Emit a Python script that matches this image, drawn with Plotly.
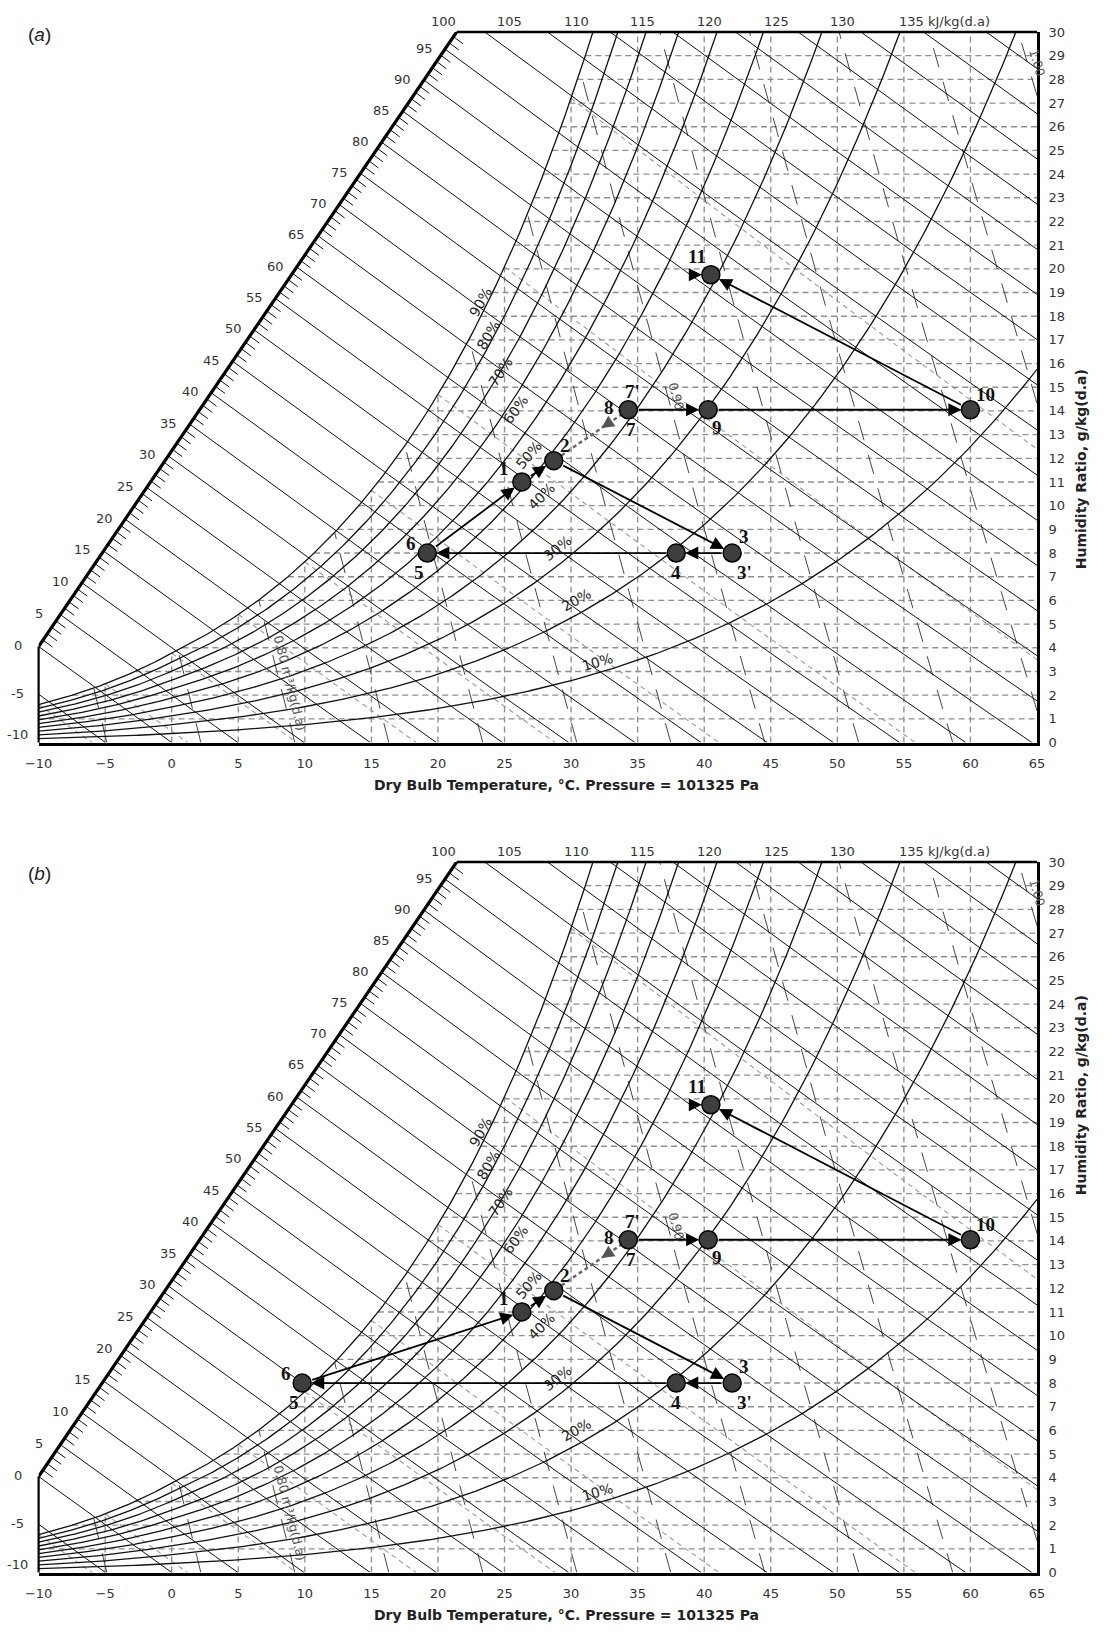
import numpy as np
import plotly.graph_objects as go

P_ATM = 101.325  # kPa

# ---------------- values ----------------
state_names = ['1', '2', '3', '4', '6', '7', '9', '10', '11']
tdb_a = [26.3, 28.7, 42.1, 37.9, 19.2, 34.3, 40.3, 60.0, 40.5]
hr_a = [11.0, 11.9, 8.0, 8.0, 8.0, 14.05, 14.05, 14.05, 19.75]
tdb_b = [26.3, 28.7, 42.1, 37.9, 9.8, 34.3, 40.3, 60.0, 40.5]
hr_b = [11.0, 11.9, 8.0, 8.0, 8.0, 14.05, 14.05, 14.05, 19.75]

process_solid = [('6', '1'), ('1', '2'), ('2', '3'), ('3', '4'), ('4', '6'),
                 ('7', '9'), ('9', '10'), ('10', '11')]
process_dashed = [('7', '2')]

rh_levels = [10, 20, 30, 40, 50, 60, 70, 80, 90]
rh_label_t = [32.0, 30.4, 29.0, 27.8, 26.8, 25.8, 24.7, 23.8, 23.2]
rh_label_w = [3.4, 6.0, 8.2, 10.4, 12.15, 14.05, 15.65, 17.2, 18.6]

enthalpy_levels = [-10, -5, 0, 5, 10, 15, 20, 25, 30, 35, 40, 45, 50, 55, 60, 65, 70,
                   75, 80, 85, 90, 95, 100, 105, 110, 115, 120, 125, 130, 135, 140]
enthalpy_top_labels = [100, 105, 110, 115, 120, 125, 130]
enthalpy_diag_labels = [-10, -5, 0, 5, 10, 15, 20, 25, 30, 35, 40, 45, 50, 55, 60,
                        65, 70, 75, 80, 85, 90, 95]
wetbulb_levels = [-10, -5, 0, 5, 10, 15, 20, 25, 30]
volume_levels = [0.76, 0.78, 0.80, 0.82, 0.84, 0.86, 0.88, 0.90, 0.92, 0.94, 0.96,
                 0.98, 1.00]
volume_labels = ['0.80 m³/kg(d.a)', '0.90', '1.00']
volume_label_v = [0.80, 0.90, 1.00]
volume_label_t = [8.9, 37.9, 65.0]
volume_label_w = [2.5, 14.6, 28.7]
x_ticks = [-10, -5, 0, 5, 10, 15, 20, 25, 30, 35, 40, 45, 50, 55, 60, 65]
y_ticks = list(range(0, 31))

# ---------------- layout geometry (pixels of the 1109x1637 page) ----------------
W_FIG, H_FIG = 1109, 1637
X_LEFT, X_RIGHT = 38.6, 1037.0
PANEL_TOP = [32.0, 862.0]
PANEL_BOT = [742.5, 1572.5]
PX_T = (X_RIGHT - X_LEFT) / 75.0
PX_W = (PANEL_BOT[0] - PANEL_TOP[0]) / 30.0
T_CORNER = 21.4  # where the enthalpy scale line meets the top border
FONT = 'DejaVu Sans'


# ---------------- psychrometric relations ----------------
def p_ws(T):
    T = np.asarray(T, dtype=float)
    Tk = T + 273.15
    ln_w = (-5.8002206e3 / Tk + 1.3914993 - 4.8640239e-2 * Tk + 4.1764768e-5 * Tk ** 2
            - 1.4452093e-8 * Tk ** 3 + 6.5459673 * np.log(Tk))
    ln_i = (-5.6745359e3 / Tk + 6.3925247 - 9.677843e-3 * Tk + 6.2215701e-7 * Tk ** 2
            + 2.0747825e-9 * Tk ** 3 - 9.484024e-13 * Tk ** 4 + 4.1635019 * np.log(Tk))
    return np.exp(np.where(T >= 0, ln_w, ln_i)) / 1000.0


def w_rh(T, phi):
    pv = phi * p_ws(T)
    return 621.945 * pv / (P_ATM - pv)


def w_h(T, h):
    T = np.asarray(T, dtype=float)
    return 1000.0 * (h - 1.006 * T) / (2501.0 + 1.86 * T)


def h_of(T, w):
    return 1.006 * T + w / 1000.0 * (2501.0 + 1.86 * T)


def t_v(v, w):
    w = np.asarray(w, dtype=float)
    return v * P_ATM / (0.287042 * (1 + 1.607858 * w / 1000.0)) - 273.15


def bisect(f, lo, hi, n=70):
    flo = f(lo)
    for _ in range(n):
        mid = 0.5 * (lo + hi)
        fm = f(mid)
        if np.sign(fm) == np.sign(flo):
            lo, flo = mid, fm
        else:
            hi = mid
    return 0.5 * (lo + hi)


def t_sat(w):
    return bisect(lambda T: float(w_rh(T, 1.0)) - w, -60.0, 90.0)


D0 = (-10.0, float(w_h(-10.0, 0.0)))
D1 = (T_CORNER, 30.0)
H_CORNER = h_of(*D1)


def diag_pt(s):
    return D0[0] + s * (D1[0] - D0[0]), D0[1] + s * (D1[1] - D0[1])


def diag_for_h(h):
    s = bisect(lambda s: h_of(*diag_pt(s)) - h, 0.0, 1.0)
    return diag_pt(s)


# ---------------- geometry of the chart background ----------------
def build_background():
    g = {}
    # enthalpy lines
    ex, ey = [], []
    for h in enthalpy_levels:
        if h <= 0:
            t0 = -10.0
        elif h <= H_CORNER:
            t0 = diag_for_h(h)[0]
        else:
            t0 = (h - 0.03 * 2501.0) / (1.006 + 0.03 * 1.86)
        t1 = min(h / 1.006, 65.0)
        if t1 <= t0:
            continue
        ts = np.linspace(t0, t1, 25)
        ws = np.clip(w_h(ts, h), 0, 30)
        ex += list(ts) + [None]
        ey += list(ws) + [None]
    g['enth'] = (ex, ey)
    # hatches on the enthalpy scale
    hx, hy = [], []
    for h in range(1, int(H_CORNER) + 1):
        if h % 5 == 0:
            continue
        t0, w0 = diag_for_h(h)
        t1 = t0 + 0.72
        hx += [t0, t1, None]
        hy += [w0, float(w_h(t1, h)), None]
    g['hatch'] = (hx, hy)
    # relative humidity curves
    rx, ry = [], []
    for phi in [r / 100.0 for r in rh_levels] + [1.0]:
        if float(w_rh(65.0, phi)) > 30:
            t_top = bisect(lambda T: float(w_rh(T, phi)) - 30.0, -10.0, 65.0)
        else:
            t_top = 65.0
        ts = np.linspace(-10.0, t_top, 220)
        rx += list(ts) + [None]
        ry += list(w_rh(ts, phi)) + [None]
    g['rh'] = (rx, ry)
    # dashed grid
    gx, gy = [], []
    for w in y_ticks[1:-1]:
        t0 = max(-10.0, t_sat(w))
        gx += [t0, 65.0, None]
        gy += [w, w, None]
    for T in x_ticks[1:-1]:
        wt = min(30.0, float(w_rh(T, 1.0)))
        gx += [T, T, None]
        gy += [0, wt, None]
    g['grid'] = (gx, gy)
    # wet-bulb lines
    bx, by = [], []
    for twb in wetbulb_levels:
        ws_ = float(w_rh(twb, 1.0)) / 1000.0
        t_end = min(65.0, twb + (2501.0 - 2.326 * twb) * ws_ / 1.006)
        ts = np.linspace(twb, t_end, 30)
        ww = 1000.0 * ((2501.0 - 2.326 * twb) * ws_ - 1.006 * (ts - twb)) / \
            (2501.0 + 1.86 * ts - 4.186 * twb)
        bx += list(ts) + [None]
        by += list(np.clip(ww, 0, 30)) + [None]
    g['wb'] = (bx, by)
    # specific volume lines
    vx, vy = [], []
    for v in volume_levels:
        if float(t_v(v, 0.0)) > 65.0:
            w_lo = (v * P_ATM / (0.287042 * 338.15) - 1.0) / 1.607858 * 1000.0
        else:
            w_lo = 0.0
        f = lambda w, v=v: float(w_rh(float(t_v(v, w)), 1.0)) - w
        w_hi = 30.0 if f(30.0) > 0 else bisect(f, w_lo, 30.0)
        if w_hi <= w_lo:
            continue
        ws = np.linspace(w_lo, w_hi, 20)
        vx += list(t_v(v, ws)) + [None]
        vy += list(ws) + [None]
    g['vol'] = (vx, vy)
    return g


BG = build_background()

fig = go.Figure()
annotations = []
shapes = []

x_dom = [X_LEFT / W_FIG, X_RIGHT / W_FIG]


def ydom(k):
    return [1 - PANEL_BOT[k] / H_FIG, 1 - PANEL_TOP[k] / H_FIG]


def line_trace(xy, xa, ya, color, width, dash='solid'):
    return go.Scatter(x=xy[0], y=xy[1], mode='lines', xaxis=xa, yaxis=ya,
                      line=dict(color=color, width=width, dash=dash),
                      hoverinfo='skip', showlegend=False)


state_text_style = [  # text, anchor state, x shift px, y shift px
    ('1', '1', -18, 13), ('2', '2', 11, 15), ('3', '3', 12, 17), ("3'", '3', 12, -19),
    ('4', '4', 0, -19), ('6', '6', -16, 10), ('5', '6', -8, -19), ("7'", '7', 4, 18),
    ('7', '7', 3, -20), ('8', '7', -19, 2), ('9', '9', 9, -18), ('10', '10', 15, 15),
    ('11', '11', -14, 18)]

panels = [(tdb_a, hr_a, '(<i>a</i>)', 22.0), (tdb_b, hr_b, '(<i>b</i>)', 873.0)]

for k, (tdb, hr, ptxt, py) in enumerate(panels):
    xa = 'x' if k == 0 else 'x2'
    ya = 'y' if k == 0 else 'y2'
    T = dict(zip(state_names, tdb))
    W = dict(zip(state_names, hr))

    fig.add_trace(line_trace(BG['grid'], xa, ya, '#8f8f8f', 1.35, '6px,4px'))
    fig.add_trace(line_trace(BG['wb'], xa, ya, '#9a9a9a', 1.1, '5px,4px'))
    fig.add_trace(line_trace(BG['vol'], xa, ya, '#454545', 1.0, '20px,15px'))
    fig.add_trace(line_trace(BG['enth'], xa, ya, '#111111', 1.0))
    fig.add_trace(line_trace(BG['hatch'], xa, ya, '#111111', 1.0))
    fig.add_trace(line_trace(BG['rh'], xa, ya, '#111111', 1.3))
    fig.add_trace(line_trace(([D0[0], D1[0]], [D0[1], D1[1]]), xa, ya, '#000000', 3.2))

    # borders that the axes do not draw
    yd = ydom(k)
    xc = x_dom[0] + (T_CORNER + 10) / 75.0 * (x_dom[1] - x_dom[0])
    shapes.append(dict(type='line', xref='paper', yref='paper', x0=xc, x1=x_dom[1],
                       y0=yd[1], y1=yd[1], line=dict(color='black', width=2.6)))
    shapes.append(dict(type='line', xref='paper', yref='paper', x0=x_dom[0], x1=x_dom[0],
                       y0=yd[0], y1=yd[0] + D0[1] / 30.0 * (yd[1] - yd[0]),
                       line=dict(color='black', width=2.2)))

    # dashed process line 7 -> 2
    for a, b in process_dashed:
        fig.add_trace(go.Scatter(x=[T[a], T[b]], y=[W[a], W[b]], mode='lines',
                                 xaxis=xa, yaxis=ya, hoverinfo='skip', showlegend=False,
                                 line=dict(color='#666666', width=2.4, dash='4px,3px')))
        hx = T[a] + 0.36 * (T[b] - T[a])
        hy = W[a] + 0.36 * (W[b] - W[a])
        tx = T[a] + 0.22 * (T[b] - T[a])
        ty = W[a] + 0.22 * (W[b] - W[a])
        annotations.append(dict(x=hx, y=hy, ax=tx, ay=ty, xref=xa, yref=ya, axref=xa,
                                ayref=ya, text='', showarrow=True, arrowhead=2,
                                arrowsize=1.4, arrowwidth=1.8, arrowcolor='#555555'))

    # state points
    fig.add_trace(go.Scatter(x=tdb, y=hr, mode='markers', xaxis=xa, yaxis=ya,
                             marker=dict(size=18, color='#3e3e3e',
                                         line=dict(color='black', width=1.5)),
                             hoverinfo='skip', showlegend=False))

    # process arrows
    for a, b in process_solid:
        annotations.append(dict(x=T[b], y=W[b], ax=T[a], ay=W[a], xref=xa, yref=ya,
                                axref=xa, ayref=ya, text='', showarrow=True,
                                arrowhead=2, arrowsize=1.45, arrowwidth=1.8,
                                arrowcolor='black', standoff=9, startstandoff=9))
    annotations.append(dict(x=T['11'], y=W['11'], ax=T['11'] - 1.6, ay=W['11'],
                            xref=xa, yref=ya, axref=xa, ayref=ya, text='',
                            showarrow=True, arrowhead=2, arrowsize=1.45, arrowwidth=1.8,
                            arrowcolor='black', standoff=9))

    # state labels
    for txt, st, dx, dy in state_text_style:
        annotations.append(dict(x=T[st], y=W[st], xref=xa, yref=ya, text='<b>%s</b>' % txt,
                                showarrow=False, xshift=dx, yshift=dy,
                                font=dict(family='Liberation Serif', size=19, color='#111')))

    # relative humidity labels
    for r, lt, lw in zip(rh_levels, rh_label_t, rh_label_w):
        phi = r / 100.0
        slope = (float(w_rh(lt + 0.05, phi)) - float(w_rh(lt - 0.05, phi))) / 0.1
        ang = -np.degrees(np.arctan(slope * PX_W / PX_T))
        annotations.append(dict(x=lt, y=lw, xref=xa, yref=ya, text='%d%%' % r,
                                showarrow=False, textangle=ang,
                                font=dict(family=FONT, size=14, color='#222')))

    # specific volume labels
    for txt, v, lt, lw in zip(volume_labels, volume_label_v, volume_label_t, volume_label_w):
        dTdw = (float(t_v(v, lw + 0.05)) - float(t_v(v, lw - 0.05))) / 0.1
        ang = np.degrees(np.arctan(PX_W / (PX_T * abs(dTdw))))
        annotations.append(dict(x=lt, y=lw, xref=xa, yref=ya, text=txt, showarrow=False,
                                textangle=ang,
                                font=dict(family=FONT, size=12.5, color='#555')))

    # enthalpy scale labels along the diagonal / left edge
    for h in enthalpy_diag_labels:
        if h <= 0:
            pt = (-10.0, float(w_h(-10.0, h)))
        else:
            pt = diag_for_h(h)
        annotations.append(dict(x=pt[0], y=pt[1], xref=xa, yref=ya, text=str(h),
                                showarrow=False, xshift=-21, yshift=7 if h == -10 else 1,
                                font=dict(family=FONT, size=13, color='#333')))
    # enthalpy labels along the top
    for i, h in enumerate(enthalpy_top_labels):
        annotations.append(dict(x=20.4 + 5 * i, y=30, xref=xa, yref=ya, text=str(h),
                                showarrow=False, yshift=11,
                                font=dict(family=FONT, size=13, color='#333')))
    annotations.append(dict(x=54.45, y=30, xref=xa, yref=ya, text='135 kJ/kg(d.a)',
                            showarrow=False, xanchor='left', yshift=11,
                            font=dict(family=FONT, size=13, color='#333')))

    # axis titles (x title anchored to the x axis so it sits under the tick labels)
    annotations.append(dict(x=566 / W_FIG, y=0, xref='paper', yref=ya + ' domain',
                            yanchor='top', yshift=-32, showarrow=False,
                            text='<b>Dry Bulb Temperature, °C. Pressure = 101325 Pa</b>',
                            font=dict(family=FONT, size=14, color='#222')))
    annotations.append(dict(x=1091 / W_FIG,
                            y=1 - ((PANEL_TOP[k] + PANEL_BOT[k]) / 2 - 20) / H_FIG,
                            xref='paper', yref='paper', showarrow=False, textangle=-90,
                            text='<b>Humidity Ratio, g/kg(d.a)</b>',
                            font=dict(family=FONT, size=14, color='#222')))
    # panel tag
    annotations.append(dict(x=26 / W_FIG, y=1 - py / H_FIG, xref='paper', yref='paper',
                            showarrow=False, text=ptxt,
                            font=dict(family='Liberation Sans', size=19, color='#222')))

axis_x = dict(range=[-10, 65], tickvals=x_ticks, showgrid=False, zeroline=False,
              showline=True, linecolor='black', linewidth=2.6, ticks='outside', ticklen=7,
              tickcolor='rgba(0,0,0,0)', tickfont=dict(family=FONT, size=13, color='#333'),
              domain=x_dom, fixedrange=True, automargin=False)
axis_y = dict(range=[0, 30], tickvals=y_ticks, showgrid=False, zeroline=False,
              showline=True, linecolor='black', linewidth=2.6, side='right',
              ticks='outside', ticklen=6, tickcolor='rgba(0,0,0,0)',
              tickfont=dict(family=FONT, size=13, color='#333'), fixedrange=True,
              automargin=False)

fig.update_layout(
    width=W_FIG, height=H_FIG, autosize=False,
    margin=dict(l=0, r=0, t=0, b=0, pad=0),
    paper_bgcolor='white', plot_bgcolor='white',
    xaxis=dict(axis_x, anchor='y'),
    yaxis=dict(axis_y, anchor='x', domain=ydom(0)),
    xaxis2=dict(axis_x, anchor='y2'),
    yaxis2=dict(axis_y, anchor='x2', domain=ydom(1)),
    annotations=annotations, shapes=shapes, showlegend=False,
)

fig.write_html("out.html", config={'displayModeBar': False},
               post_script="document.body.style.margin='0';")
